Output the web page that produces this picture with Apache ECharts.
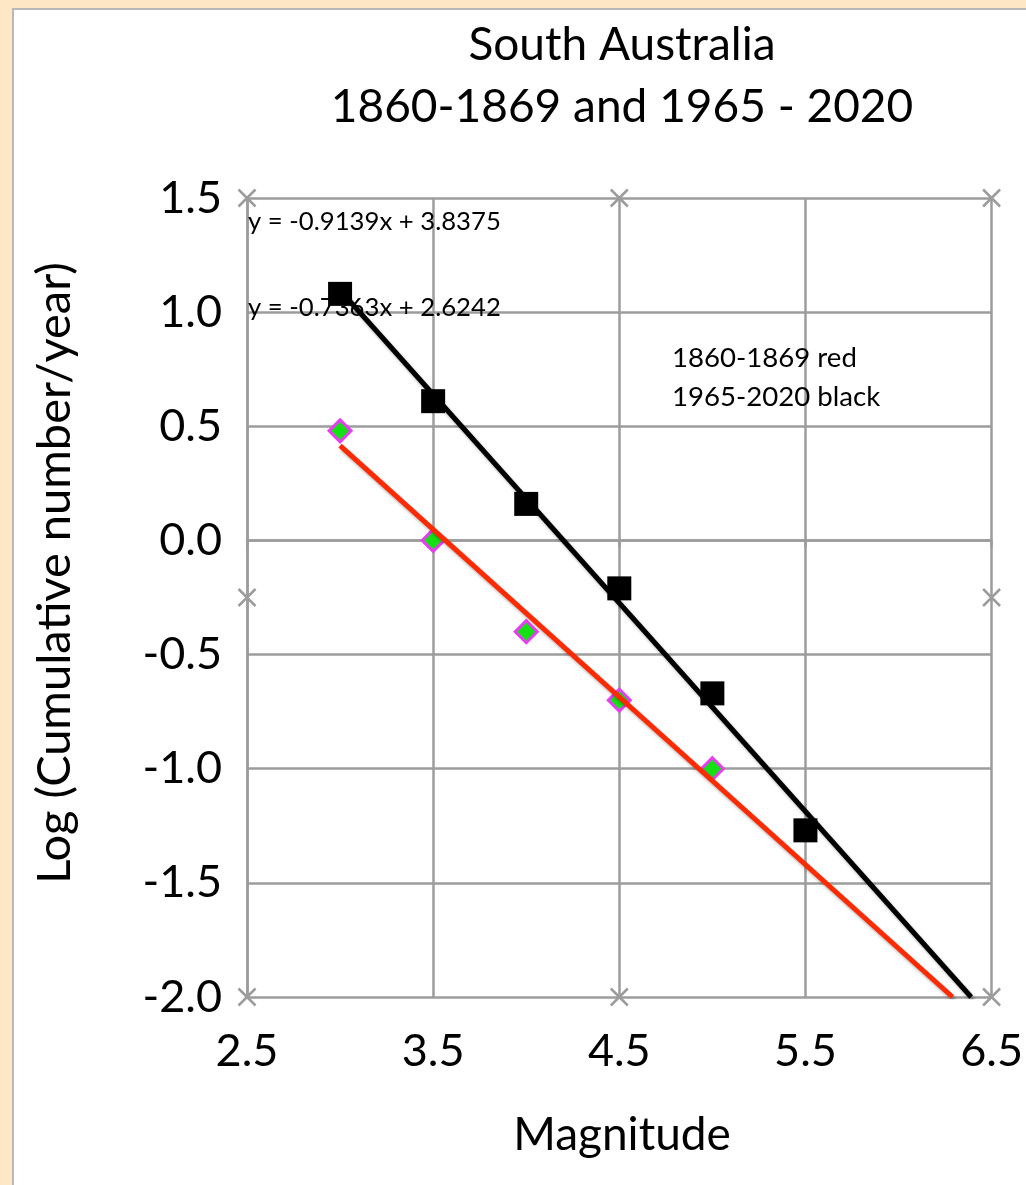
<!DOCTYPE html>
<html><head><meta charset="utf-8">
<script src="https://cdn.jsdelivr.net/npm/echarts@6/dist/echarts.min.js"></script>
<style>html,body{margin:0;padding:0;background:#FDE7C4;}#c{width:1026px;height:1185px;}</style>
</head><body><div id="c"></div>
<script>
var FONT = 'Lato, "Open Sans", sans-serif';
var titleLines = ['South Australia', '1860-1869 and 1965 - 2020'];
var xTicks = [2.5, 3.5, 4.5, 5.5, 6.5];
var yTicks = [1.5, 1.0, 0.5, 0.0, -0.5, -1.0, -1.5, -2.0];
// 1965-2020 (black squares)
var blackMag = [3.0, 3.5, 4.0, 4.5, 5.0, 5.5];
var blackLog = [1.08, 0.61, 0.16, -0.21, -0.67, -1.27];
// 1860-1869 (green diamonds)
var redMag = [3.0, 3.5, 4.0, 4.5, 5.0];
var redLog = [0.48, 0.0, -0.40, -0.70, -1.0];
// trendline endpoints
var blackTrend = [[3.0, 1.096], [6.39, -2.0]];
var redTrend = [[3.0, 0.415], [6.29, -2.0]];
var blackEq = 'y = -0.9139x + 3.8375';
var redEq = 'y = -0.7363x + 2.6242';
var noteLines = ['1860-1869 red', '1965-2020 black'];
// hidden-series corner markers
var cornerPts = [[2.5, 1.5], [4.5, 1.5], [6.5, 1.5], [2.5, -2.0], [4.5, -2.0], [6.5, -2.0], [2.5, -0.25], [6.5, -0.25]];

function zip(a, b) { return a.map(function (v, i) { return [v, b[i]]; }); }

var chart = echarts.init(document.getElementById('c'));
var grey = '#9c9c9c';
function txt(s, x, y, size, align) {
  return { type: 'text', z: 5, style: { text: s, x: x, y: y, align: align || 'center', verticalAlign: 'middle', font: size + 'px ' + FONT, fill: '#000' } };
}
chart.setOption({
  animation: false,
  backgroundColor: 'transparent',
  textStyle: { fontFamily: FONT },
  grid: { left: 247, right: 33, top: 198, bottom: 188, containLabel: false },
  graphic: [
    { type: 'rect', z: -10, shape: { x: 13, y: 9, width: 1020, height: 1185 }, style: { fill: '#fff', stroke: '#b8b8b8', lineWidth: 2 } },
    txt(titleLines[0], 622, 45, 46),
    txt(titleLines[1], 622, 107, 46),
    { type: 'text', z: 5, x: 55, y: 573, rotation: Math.PI / 2, style: { text: 'Log (Cumulative number/year)', x: 0, y: 0, align: 'center', verticalAlign: 'middle', font: '47px ' + FONT, fill: '#000' } },
    txt('Magnitude', 622, 1135, 46),
    txt(blackEq, 248, 222, 25.7, 'left'),
    txt(redEq, 248, 308, 25.7, 'left'),
    txt(noteLines[0], 672, 358, 27.6, 'left'),
    txt(noteLines[1], 672, 397, 27.6, 'left')
  ],
  xAxis: {
    type: 'value', min: xTicks[0], max: xTicks[xTicks.length - 1], interval: 1,
    axisLine: { show: true, lineStyle: { color: grey, width: 2.5 } },
    axisTick: { show: true, length: 7, lineStyle: { color: grey, width: 2.5 } },
    splitLine: { show: true, lineStyle: { color: grey, width: 2.5 } },
    axisLabel: { fontSize: 45, color: '#000', margin: 32, fontFamily: FONT, formatter: function (v) { return v.toFixed(1); } }
  },
  yAxis: {
    type: 'value', min: -2, max: 1.5, interval: 0.5,
    axisLine: { show: true, lineStyle: { color: grey, width: 2.5 } },
    axisTick: { show: false },
    splitLine: { show: true, lineStyle: { color: grey, width: 2.5 } },
    axisLabel: { fontSize: 45, color: '#000', margin: 25, fontFamily: FONT, formatter: function (v) { return v.toFixed(1); } }
  },
  series: [
    { type: 'scatter', data: cornerPts, symbol: 'path://M0,0L10,10M10,0L0,10', symbolSize: 17, itemStyle: { color: 'none', borderColor: grey, borderWidth: 2.5, opacity: 1 }, z: 1, silent: true },
    { type: 'scatter', name: '1860-1869', data: zip(redMag, redLog), symbol: 'diamond', symbolSize: 22, itemStyle: { color: '#14E014', borderColor: '#E83CF5', borderWidth: 3, opacity: 1 }, z: 3 },
    { type: 'line', data: redTrend, showSymbol: false, symbol: 'none', lineStyle: { color: '#FF2A00', width: 5, shadowColor: 'rgba(0,0,0,0.3)', shadowBlur: 3, shadowOffsetX: 2, shadowOffsetY: 3 }, z: 4 },
    { type: 'line', data: blackTrend, showSymbol: false, symbol: 'none', lineStyle: { color: '#000', width: 5, shadowColor: 'rgba(0,0,0,0.3)', shadowBlur: 3, shadowOffsetX: 2, shadowOffsetY: 3 }, z: 4 },
    { type: 'scatter', name: '1965-2020', data: zip(blackMag, blackLog), symbol: 'rect', symbolSize: 24, itemStyle: { color: '#000', opacity: 1 }, z: 5 }
  ]
});
</script></body></html>
